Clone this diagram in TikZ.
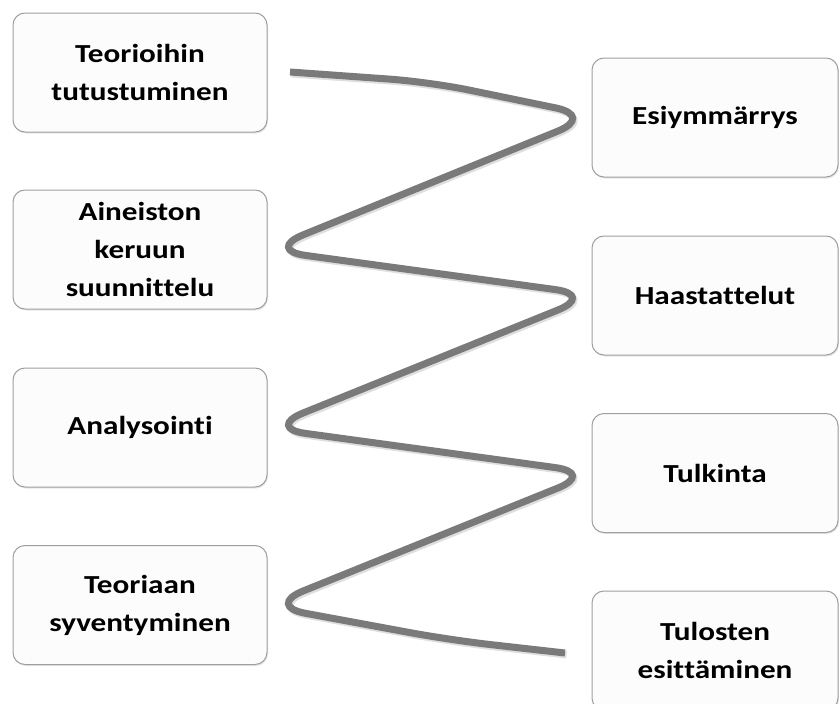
\documentclass[tikz,border=0pt]{standalone}
\usepackage{fontspec}
\setmainfont{Carlito}[FakeStretch=1.2,RawFeature={-liga},
  BoldFont={Carlito Bold},BoldFeatures={FakeStretch=1.2,RawFeature={-liga}}]
\usetikzlibrary{shadows}
\definecolor{linegray}{RGB}{122,122,122}
% keeps t+t and t+i apart
\newcommand{\nolig}{\kern0pt}

\begin{document}
\begin{tikzpicture}[x=1pt,y=-1pt,
  box/.style={draw=gray!75,line width=1pt,rounded corners=12pt,fill=gray!2,
    minimum width=254pt,minimum height=119pt,align=center,
    font=\bfseries\fontsize{26}{38}\selectfont,
    drop shadow={shadow xshift=1pt,shadow yshift=-1.5pt,opacity=0.2}},
  rbox/.style={box,minimum width=246pt},
  curve/.style={line width=7pt,rounded corners=40pt,line cap=butt}]
\useasboundingbox (0,0) rectangle (839,704);
\clip (0,0) rectangle (839,704);
% left column
\node[box] (teoria) at (140,72.5) {Teorioihin\\tutustuminen};
\node[box] (aineisto) at (140,249.5) {Aineiston\\keruun\\suunnit\nolig telu};
\node[box] (analyysi) at (140,427.5) {Analysoint\nolig i};
\node[box] (syvent) at (140,605) {Teoriaan\\syventyminen};
% right column
\node[rbox] (esiym) at (715,117.5) {Esiymmärrys};
\node[rbox] (haast) at (715,295.5) {Haastat\nolig telut};
\node[rbox] (tulkinta) at (715,473) {Tulkinta};
\node[rbox] (tulokset) at (715,650.5) {Tulosten\\esit\nolig täminen};
% the winding line
\draw[curve,gray!25,xshift=1.5pt,yshift=-2pt] (290,72) -- (430,82) -- (595,116) -- (266,250) -- (595,295) -- (266,428) -- (595,473) -- (266,606) -- (450,640) -- (565,653);
\draw[curve,linegray] (290,72) -- (430,82) -- (595,116) -- (266,250) -- (595,295) -- (266,428) -- (595,473) -- (266,606) -- (450,640) -- (565,653);
\end{tikzpicture}
\end{document}
